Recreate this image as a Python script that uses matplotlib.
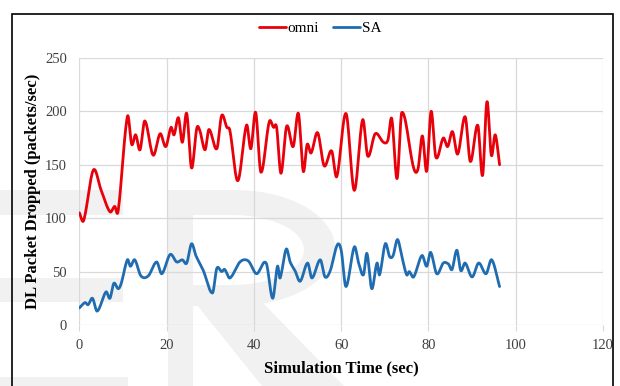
import matplotlib.pyplot as plt
import numpy as np
from matplotlib.patches import Rectangle, Polygon

plt.rcParams['font.family'] = ['Liberation Serif', 'DejaVu Serif']

# omni series (time in sec, packets dropped per sec)
omni_t = [0, 1, 3.2, 5, 7, 8.1, 8.9, 11, 12, 12.9, 13.9, 15, 16.9, 18.5, 19.8, 21, 21.7,
          22.7, 23.6, 24.6, 25.7, 26.9, 27.6, 28.8, 29.7, 31.5, 32.6, 33.8, 34.5, 36.3,
          38.3, 39.3, 40.4, 41.6, 43.5, 44.5, 45.2, 46.2, 47.5, 49, 50.2, 51.3, 52.2,
          53.1, 54.6, 56.1, 57.8, 59, 61.1, 63, 64.9, 66.1, 67.8, 69.7, 70.7, 71.6, 72.8,
          73.9, 76.6, 77.6, 78.6, 79.6, 80.6, 81.7, 83.4, 84.4, 85.5, 86.7, 88.4, 89.6,
          91.3, 92.4, 93.4, 94.4, 95.3, 96.3]
omni_v = [105, 98, 145, 126, 106, 111, 107, 195, 169, 178, 164, 191, 159, 179, 167, 185, 178,
          194, 171, 198, 147, 184, 182, 164, 183, 165, 196, 185, 182, 135,
          187, 165, 199, 143, 190, 185, 185, 142, 186, 167, 198, 144, 169,
          161, 180, 149, 163, 139, 198, 126, 192, 158, 179, 171, 173, 193, 137,
          199, 147, 146, 177, 144, 200, 157, 175, 167, 181, 160, 195, 153,
          187, 140, 209, 159, 178, 150]

# SA series
sa_t = [0, 1.3, 2, 3, 4.1, 6.1, 7, 7.9, 8.9, 9.6, 11, 11.7, 12.7, 14.1, 15.8, 17.7, 18.9,
        20.8, 22.3, 23.6, 24.6, 25.7, 26.7, 28.4, 30.5, 31.5, 32.6, 33.3, 34.5, 36.8,
        38.7, 40.6, 42.8, 44.3, 45.4, 46, 47.4, 48.3, 49.4, 50.6, 52.3, 53.3, 55.2,
        56.3, 57.5, 59.1, 60, 61.1, 63, 64, 65.1, 65.9, 67, 68.2, 68.8, 70.1, 71.1,
        71.9, 72.9, 73.9, 75, 75.6, 76.6, 78.5, 79.6, 80.5, 81.9, 83.4, 84.6, 85.4,
        86.5, 87.4, 88.4, 90, 91.5, 93.2, 94.5, 96.3]
sa_v = [16, 21, 19, 25, 13, 31, 25, 39, 34, 39, 61, 55, 61, 46, 46, 59, 48,
        66, 59, 61, 58, 76, 65, 51, 30, 53, 50, 52, 44, 59,
        60, 48, 58, 25, 55, 44, 71, 59, 51, 41, 58, 44, 61,
        45, 51, 75, 70, 36, 73, 58, 47, 67, 34, 58, 47, 76, 64,
        65, 80, 64, 47, 50, 45, 65, 55, 68, 48, 58, 57, 52,
        70, 51, 58, 45, 58, 48, 61, 36]

x_ticks = [0, 20, 40, 60, 80, 100, 120]
y_ticks = [0, 50, 100, 150, 200, 250]


def smooth(t, v, n=16):
    # cubic Hermite through the points with Catmull-Rom style slopes
    t = np.asarray(t, float)
    v = np.asarray(v, float)
    m = np.empty_like(v)
    m[1:-1] = (v[2:] - v[:-2]) / (t[2:] - t[:-2])
    m[0] = (v[1] - v[0]) / (t[1] - t[0])
    m[-1] = (v[-1] - v[-2]) / (t[-1] - t[-2])
    xs, ys = [], []
    u = np.linspace(0, 1, n, endpoint=False)
    h00 = 2 * u**3 - 3 * u**2 + 1
    h10 = u**3 - 2 * u**2 + u
    h01 = -2 * u**3 + 3 * u**2
    h11 = u**3 - u**2
    for i in range(len(t) - 1):
        h = t[i + 1] - t[i]
        xs.extend(t[i] + u * h)
        ys.extend(h00 * v[i] + h10 * h * m[i] + h01 * v[i + 1] + h11 * h * m[i + 1])
    xs.append(t[-1])
    ys.append(v[-1])
    return xs, ys


W, H = 620, 386
fig = plt.figure(figsize=(6.2, 3.86), dpi=100)


def px(points):
    return [(x / W, 1 - y / H) for x, y in points]


# faint lettering behind the chart
wm = '#f1f1f1'
for shape in [
    [(0, 190), (123, 190), (123, 215), (0, 215)],
    [(0, 278), (123, 278), (123, 302), (0, 302)],
    [(0, 377), (128, 377), (128, 386), (0, 386)],
    [(168, 190), (193, 190), (193, 386), (168, 386)],
    [(193, 300), (260, 300), (344, 386), (262, 386)],
]:
    fig.patches.append(Polygon(px(shape), closed=True, transform=fig.transFigure,
                               fc=wm, ec='none', zorder=-3))

ang = np.linspace(-np.pi / 2, np.pi / 2, 40)
outer = [(193, 190), (235, 190)] + [(235 + 100 * np.cos(a), 248 + 58 * np.sin(a)) for a in ang] + [(193, 306)]
inner = [(193, 215), (232, 215)] + [(232 + 72 * np.cos(a), 250 + 35 * np.sin(a)) for a in ang] + [(193, 285)]
fig.patches.append(Polygon(px(outer), closed=True, transform=fig.transFigure, fc=wm, ec='none', zorder=-3))
fig.patches.append(Polygon(px(inner), closed=True, transform=fig.transFigure, fc='white', ec='none', zorder=-2))

ax = fig.add_axes([0.128, 0.158, 0.9726 - 0.128, 0.85 - 0.158])
ax.patch.set_alpha(0)

ox, oy = smooth(omni_t, omni_v)
sx, sy = smooth(sa_t, sa_v)
ax.plot(ox, oy, color='#e8000b', lw=2, label='omni', solid_capstyle='round')
ax.plot(sx, sy, color='#1f6db0', lw=2, label='SA', solid_capstyle='round')

ax.set_xlim(0, 120)
ax.set_ylim(0, 250)
ax.set_xticks(x_ticks)
ax.set_yticks(y_ticks)
ax.grid(True, color='#d9d9d9', lw=0.9)
ax.set_axisbelow(True)
for sp in ax.spines.values():
    sp.set_visible(False)
ax.tick_params(axis='x', length=4, color='#d9d9d9', labelsize=10.5, labelcolor='#404040', pad=6)
ax.tick_params(axis='y', length=0, labelsize=10.5, labelcolor='#404040', pad=9)

ax.set_xlabel('Simulation Time (sec)', fontsize=12, fontweight='bold', labelpad=6)
ax.set_ylabel('DL Packet Dropped (packets/sec)', fontsize=12, fontweight='bold', labelpad=3)

fig.legend(loc='center', bbox_to_anchor=(0.516, 0.927), ncol=2, frameon=False,
           fontsize=11, handlelength=1.8, handletextpad=0.1, columnspacing=0.9)

# outer frame
fig.add_artist(Rectangle((12 / W, -0.02), 601 / W, (H - 14) / H + 0.02,
                         transform=fig.transFigure, fill=False, ec='black', lw=1.2))

fig.savefig('out.png', dpi=100)
